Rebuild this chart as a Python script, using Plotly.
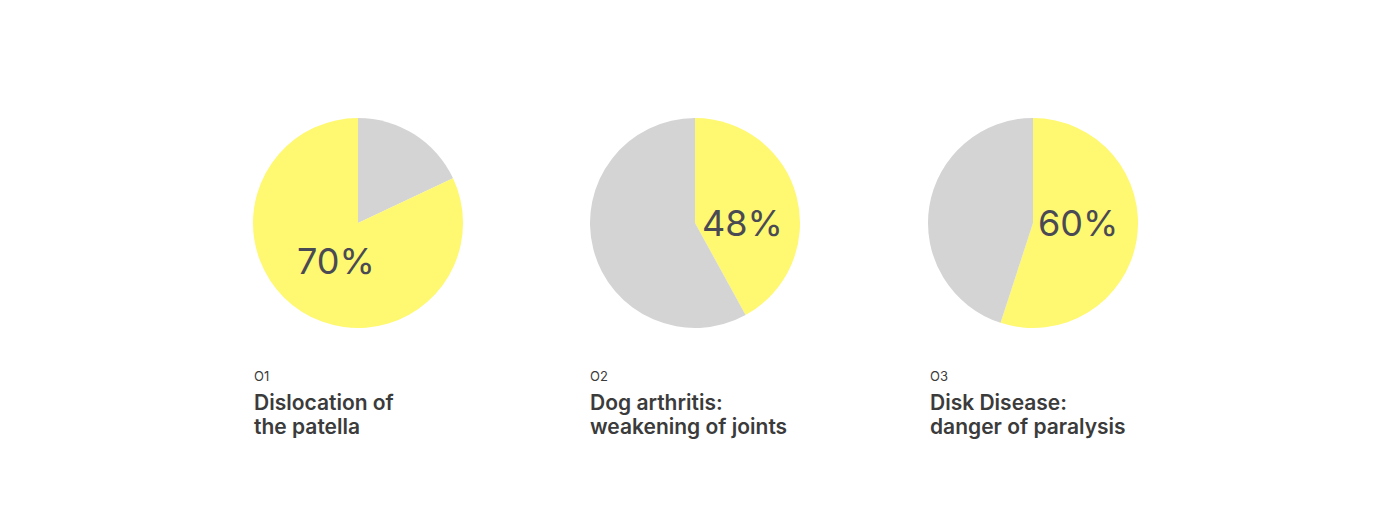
import plotly.graph_objects as go

W, H = 1400, 530
OFF = 8  # default page margin of the html body

# Data (slice shares as drawn, labels as printed)
slice_names = ["Affected", "Other"]
pie1_values = [82, 18]   # yellow, gray
pie2_values = [42, 58]
pie3_values = [55, 45]
percent_labels = ["70%", "48%", "60%"]
numbers = ["O1", "O2", "O3"]
titles_line1 = ["Dislocation of", "Dog arthritis:", "Disk Disease:"]
titles_line2 = ["the patella", "weakening of joints", "danger of paralysis"]

YELLOW = "#FFF871"
GRAY = "#D4D4D4"
TXT = "#3B3B3B"
PCT = "#4A4A55"

def px(x):
    return (x - OFF) / W

def py(y):
    return 1 - (y - OFF) / H

fig = go.Figure()

pie_boxes = [(253, 463), (590, 800), (928, 1138)]
top, bottom = 118, 328

pies = [
    (["Other", "Affected"], [pie1_values[1], pie1_values[0]], [GRAY, YELLOW]),
    (["Affected", "Other"], pie2_values, [YELLOW, GRAY]),
    (["Affected", "Other"], pie3_values, [YELLOW, GRAY]),
]

for (l, r), (labs, vals, cols) in zip(pie_boxes, pies):
    fig.add_trace(go.Pie(
        labels=labs, values=vals,
        marker=dict(colors=cols, line=dict(width=0)),
        sort=False, direction="clockwise", rotation=0,
        textinfo="none", hoverinfo="label+value",
        domain=dict(x=[px(l), px(r)], y=[py(bottom), py(top)]),
        showlegend=False,
    ))

pct_pos = [(335.5, 261), (742.5, 223), (1078, 223)]
for (x, y), t in zip(pct_pos, percent_labels):
    fig.add_annotation(x=px(x), y=py(y), xref="paper", yref="paper",
                       text=t, showarrow=False, xanchor="center", yanchor="middle",
                       font=dict(family="Inter", size=36, color=PCT))

text_x = [254, 590, 930]
for i, x in enumerate(text_x):
    fig.add_annotation(x=px(x - 2), y=py(376), xref="paper", yref="paper",
                       text=numbers[i], showarrow=False, xanchor="left", yanchor="middle",
                       font=dict(family="Inter", size=13, color=TXT))
    fig.add_annotation(x=px(x - 2), y=py(403), xref="paper", yref="paper",
                       text=titles_line1[i], showarrow=False, xanchor="left", yanchor="middle",
                       font=dict(family="Inter", size=21, color=TXT, weight=600))
    fig.add_annotation(x=px(x - 2), y=py(426), xref="paper", yref="paper",
                       text=titles_line2[i], showarrow=False, xanchor="left", yanchor="middle",
                       font=dict(family="Inter", size=21, color=TXT, weight=600))

fig.update_layout(
    width=W, height=H,
    margin=dict(l=0, r=0, t=0, b=0),
    paper_bgcolor="white", plot_bgcolor="white",
    showlegend=False,
)

fig.write_html("out.html")
